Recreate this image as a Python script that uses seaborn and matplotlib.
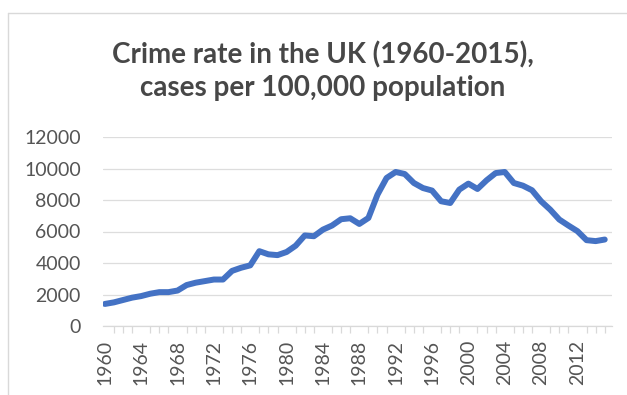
import numpy as np
import pandas as pd
import matplotlib
matplotlib.use("Agg")
import matplotlib.pyplot as plt
from matplotlib.lines import Line2D
import seaborn as sns

# Values (cases per 100,000 population)
years = list(range(1960, 2016))
crime_rate = [
    1400, 1500, 1650, 1800, 1900, 2050, 2150, 2150, 2250, 2600,
    2750, 2850, 2950, 2950, 3500, 3700, 3850, 4750, 4550, 4500,
    4700, 5100, 5750, 5700, 6120, 6380, 6780, 6840, 6480, 6860,
    8340, 9400, 9780, 9650, 9080, 8760, 8600, 7920, 7810, 8660,
    9040, 8700, 9250, 9710, 9780, 9080, 8910, 8620, 7920, 7390,
    6760, 6380, 6020, 5450, 5390, 5490,
]
y_ticks = [0, 2000, 4000, 6000, 8000, 10000, 12000]
x_label_years = list(range(1960, 2016, 4))

df = pd.DataFrame({"year": years, "rate": crime_rate})

sns.set_style("white")
plt.rcParams["font.family"] = ["Lato", "DejaVu Sans"]

fig = plt.figure(figsize=(6.27, 3.95), dpi=100)
ax = fig.add_axes([103 / 627, 1 - 326 / 395, (612 - 103) / 627, (326 - 137) / 395])

sns.lineplot(data=df, x="year", y="rate", ax=ax, color="#4472C4",
             linewidth=4.3, solid_capstyle="round", solid_joinstyle="round")

ax.set_ylim(0, 12000)
ax.set_xlim(1959.8, 2015.8)
ax.set_yticks(y_ticks)
ax.set_yticklabels([str(v) for v in y_ticks])
ax.set_xticks(x_label_years)
ax.set_xticklabels([str(v) for v in x_label_years], rotation=90)
ax.set_xticks(years, minor=True)
ax.set_xlabel("")
ax.set_ylabel("")

ax.grid(axis="y", color="#DDDDDD", linewidth=0.9)
ax.set_axisbelow(True)
for side in ["top", "right", "left"]:
    ax.spines[side].set_visible(False)
ax.spines["bottom"].set_color("#D9D9D9")
ax.spines["bottom"].set_linewidth(0.9)

ax.tick_params(axis="y", length=0, labelsize=14, labelcolor="#555555", pad=16)
ax.tick_params(axis="x", which="both", direction="out", length=5, width=0.9,
               color="#D9D9D9", labelsize=14, labelcolor="#555555", pad=5)
ax.tick_params(axis="x", which="minor", bottom=True)

fig.text(0.515, 1 - 71 / 395, "Crime rate in the UK (1960-2015),\ncases per 100,000 population",
         ha="center", va="center", fontsize=20, fontweight="bold",
         color="#474747", linespacing=1.3)

# chart area border (top and left edges visible in the reference)
fig.add_artist(Line2D([8 / 627, 1], [1 - 13 / 395, 1 - 13 / 395],
                      transform=fig.transFigure, color="#D9D9D9", linewidth=1))
fig.add_artist(Line2D([8 / 627, 8 / 627], [0, 1 - 13 / 395],
                      transform=fig.transFigure, color="#D9D9D9", linewidth=1))

fig.savefig("out.png", dpi=100)
